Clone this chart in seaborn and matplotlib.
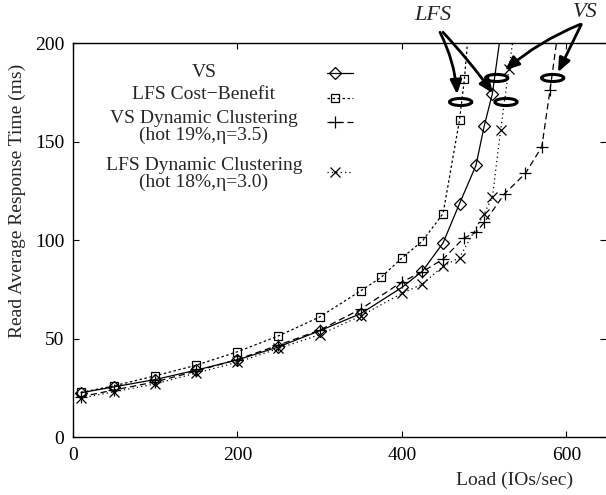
import pandas as pd
import matplotlib
matplotlib.use('Agg')
import matplotlib.pyplot as plt
import seaborn as sns
from matplotlib.patches import Ellipse

# Values (load in IOs/sec, read response time in ms)
vs_load = [10, 50, 100, 150, 200, 250, 300, 350, 400, 425, 450, 470, 490, 500, 510, 522]
vs_time = [22.5, 25.5, 29.2, 34, 39.2, 45.8, 54, 62.7, 76, 84.3, 98.6, 118.6, 138, 158, 174.5, 211]

lfs_cb_load = [10, 50, 100, 150, 200, 250, 300, 350, 375, 400, 425, 450, 470, 476, 482]
lfs_cb_time = [22.7, 26, 31.1, 36.5, 43.3, 51.4, 61, 74.3, 81.2, 91, 99.6, 113.5, 161, 182, 212]

vs_dc_load = [10, 50, 100, 150, 200, 250, 300, 350, 400, 425, 450, 475, 490, 500, 525, 550, 570, 580, 592]
vs_dc_time = [20.5, 23.9, 28, 33.5, 39.4, 46.7, 54.3, 65, 78.8, 84, 90.4, 101, 104, 109, 123.7, 133.9, 147.4, 176.4, 213]

lfs_dc_load = [10, 50, 100, 150, 200, 250, 300, 350, 400, 425, 450, 470, 500, 510, 520, 530, 538]
lfs_dc_time = [19.8, 23, 27, 32.5, 38, 45, 52, 61.5, 73, 77.7, 86.8, 91.2, 113.5, 122, 156, 187, 211]

labels = ['VS', 'LFS Cost\u2212Benefit',
          'VS Dynamic Clustering\n(hot 19%,\u03b7=3.5)',
          'LFS Dynamic Clustering\n(hot 18%,\u03b7=3.0)']

series = [
    (vs_load, vs_time, 'D', '-', 6.5),
    (lfs_cb_load, lfs_cb_time, 's', (0, (2, 2)), 6),
    (vs_dc_load, vs_dc_time, '+', (0, (5, 3)), 9),
    (lfs_dc_load, lfs_dc_time, 'x', (0, (1, 2.5)), 6.5),
]

FS = 14

sns.set_style('ticks')
plt.rcParams['font.family'] = ['Liberation Serif', 'DejaVu Serif']
plt.rcParams['font.size'] = FS

fig = plt.figure(figsize=(6.06, 4.95), dpi=100)
ax = fig.add_axes([0.12, 0.117, 0.88, 0.7955])

for (xs, ys, mk, ls, ms), lab in zip(series, labels):
    df = pd.DataFrame({'load': xs, 'time': ys})
    sns.lineplot(data=df, x='load', y='time', ax=ax, color='k', lw=0.9,
                 linestyle=ls, marker=mk, markersize=ms, markerfacecolor='none',
                 markeredgecolor='k', markeredgewidth=0.9, sort=False,
                 estimator=None)

ax.set_xlim(0, 648)
ax.set_ylim(0, 200)
ax.set_xticks([0, 200, 400, 600])
ax.set_yticks([0, 50, 100, 150, 200])
ax.tick_params(direction='in', length=4, width=0.8, top=True, right=True,
               labelsize=FS, colors='k')
ax.tick_params(axis='x', pad=7)
ax.tick_params(axis='y', pad=6)
for side in ['left', 'bottom', 'top']:
    ax.spines[side].set_linewidth(1.0)
    ax.spines[side].set_color('k')
ax.spines['right'].set_visible(False)

ax.set_xlabel('Load (IOs/sec)', fontsize=FS)
ax.xaxis.set_label_coords(0.829, -0.088)
ax.set_ylabel('Read Average Response Time (ms)', fontsize=FS)
ax.yaxis.set_label_coords(-0.088, 0.60)

# hand-drawn key in the gnuplot style: centred text, sample to the right
key_text_y = [0.9266, 0.870, 0.788, 0.668]
key_mark_y = [0.9237, 0.862, 0.801, 0.674]
for (xs, ys, mk, ls, ms), lab, ty, my in zip(series, labels, key_text_y, key_mark_y):
    ax.text(0.246, ty, lab, transform=ax.transAxes, ha='center', va='center',
            multialignment='center', fontsize=FS, linespacing=0.95)
    ax.plot([0.477, 0.526], [my, my], transform=ax.transAxes, color='k',
            lw=0.9, linestyle=ls)
    ax.plot([0.492], [my], transform=ax.transAxes, color='k', marker=mk,
            markersize=ms, markerfacecolor='none', markeredgewidth=0.9)

# ellipses marking where the curves leave the chart
for cx, cy in [(471.4, 170.2), (515.2, 182.4), (526.5, 170.2), (583.2, 182.4)]:
    ax.add_patch(Ellipse((cx, cy), 27, 3.6, fill=False, lw=2.2, ec='k', zorder=5))

arrow = dict(arrowstyle='-|>,head_length=0.6,head_width=0.25', color='k', lw=2,
             mutation_scale=14, shrinkA=0, shrinkB=0)
ax.text(437.8, 214.2, 'LFS', style='italic', fontsize=16, ha='center',
        va='center', clip_on=False)
ax.text(622.7, 215.7, 'VS', style='italic', fontsize=16, ha='center',
        va='center', clip_on=False)
ax.annotate('', xy=(467, 174.1), xytext=(446.3, 205.6), annotation_clip=False,
            arrowprops=dict(arrow, connectionstyle='arc3,rad=-0.1'))
ax.annotate('', xy=(510.7, 174.6), xytext=(450, 205.6), annotation_clip=False,
            arrowprops=dict(arrow, connectionstyle='arc3,rad=-0.03'))
ax.annotate('', xy=(525.3, 186.3), xytext=(616.4, 209.6), annotation_clip=False,
            arrowprops=dict(arrow, connectionstyle='arc3,rad=0.08'))
ax.annotate('', xy=(589.7, 185.3), xytext=(618, 209.6), annotation_clip=False,
            arrowprops=dict(arrow, connectionstyle='arc3,rad=0.0'))

fig.savefig('out.png', dpi=100)
